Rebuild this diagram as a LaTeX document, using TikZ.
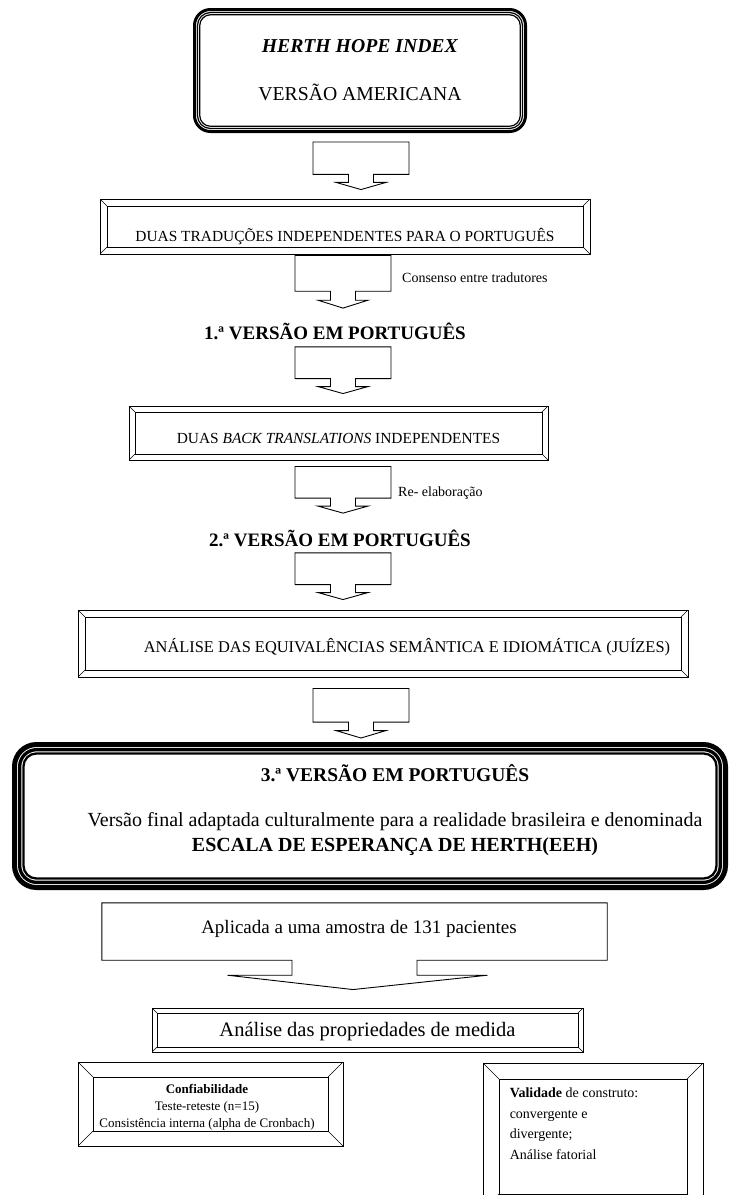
\documentclass[tikz,border=0pt]{standalone}
\usepackage{fontspec}
\setmainfont{Liberation Serif}
\usetikzlibrary{calc}

\begin{document}
\begin{tikzpicture}[x=1pt,y=-1pt]

\tikzset{bevel/.style = {draw, line width=0.9pt, inner sep=0pt, path picture={
  \draw[line width=0.9pt] ([shift={(#1pt,-#1pt)}]path picture bounding box.north west)
    rectangle ([shift={(-#1pt,#1pt)}]path picture bounding box.south east);
  \draw[line width=0.6pt] (path picture bounding box.north west) -- ++(#1pt,-#1pt)
    (path picture bounding box.north east) -- ++(-#1pt,-#1pt)
    (path picture bounding box.south west) -- ++(#1pt,#1pt)
    (path picture bounding box.south east) -- ++(-#1pt,#1pt);}}}
\tikzset{hopebox/.style = {draw, rounded corners=16pt, line width=3pt, inner sep=0pt, path picture={
  \draw[line width=1.2pt, rounded corners=13pt] ([shift={(3pt,-3pt)}]path picture bounding box.north west)
    rectangle ([shift={(-3pt,3pt)}]path picture bounding box.south east);
  \draw[line width=1.2pt, rounded corners=11pt] ([shift={(5.2pt,-5.2pt)}]path picture bounding box.north west)
    rectangle ([shift={(-5.2pt,5.2pt)}]path picture bounding box.south east);}}}
\tikzset{finalbox/.style = {draw, rounded corners=22pt, line width=5pt, inner sep=0pt, path picture={
  \draw[line width=3.3pt, rounded corners=17pt] ([shift={(5.15pt,-5.15pt)}]path picture bounding box.north west)
    rectangle ([shift={(-5.15pt,5.15pt)}]path picture bounding box.south east);
  \draw[line width=2.3pt, rounded corners=13pt] ([shift={(8.95pt,-8.95pt)}]path picture bounding box.north west)
    rectangle ([shift={(-8.95pt,8.95pt)}]path picture bounding box.south east);}}}
\tikzset{blockarr/.style = {draw, line width=0.9pt, to path={
  let \p1=(\tikztostart), \p2=(\tikztotarget), \n1={\y1-\y2} in
  (\x1-48pt,\y1) -- (\x1+48pt,\y1) -- (\x1+48pt,\y1-0.68*\n1) -- (\x1+12.5pt,\y1-0.68*\n1)
  -- (\x1+12.5pt,\y1-0.85*\n1) -- (\x1+25pt,\y1-0.85*\n1) -- (\x1,\y2)
  -- (\x1-25pt,\y1-0.85*\n1) -- (\x1-12.5pt,\y1-0.85*\n1) -- (\x1-12.5pt,\y1-0.68*\n1)
  -- (\x1-48pt,\y1-0.68*\n1) -- cycle}}}
\tikzset{vtitle/.style = {inner sep=0pt, text height=12.6pt, text depth=0pt, font=\fontsize{19}{24}\selectfont\bfseries}}
\tikzset{note/.style = {inner sep=0pt, anchor=west, text height=9.3pt, text depth=0pt, font=\fontsize{14}{16}\selectfont}}

\useasboundingbox (0,0) rectangle (729,1195);
\clip (0,0) rectangle (729,1195);

% boxes
\node[hopebox, minimum width=331pt, minimum height=122pt, align=center, font=\fontsize{19.7}{48}\selectfont] (hhi) at (360,70.5) {\textbf{\textit{HERTH HOPE INDEX}}\\VERSÃO AMERICANA};
\node[bevel=7, minimum width=490pt, minimum height=55pt, text height=29.2pt, text depth=0pt, font=\fontsize{15.4}{18}\selectfont] (trad) at (345,226.5) {DUAS TRADUÇÕES INDEPENDENTES PARA O PORTUGUÊS};
\node[note] (cons) at (402,278) {Consenso entre tradutores};
\node[vtitle] (v1) at (335,333) {1.ª VERSÃO EM PORTUGUÊS};
\node[bevel=6, minimum width=419pt, minimum height=54pt, text height=20.2pt, text depth=0pt, font=\fontsize{15.4}{18}\selectfont] (bt) at (338.5,433) {DUAS \textit{BACK TRANSLATIONS} INDEPENDENTES};
\node[note] (reel) at (398,492) {Re- elaboração};
\node[vtitle] (v2) at (340,540) {2.ª VERSÃO EM PORTUGUÊS};
\node[bevel=7, minimum width=610pt, minimum height=67pt, text height=17.9pt, text depth=0pt, font=\fontsize{16.4}{18}\selectfont] (an) at (383,643.5) {\hspace*{48pt}ANÁLISE DAS EQUIVALÊNCIAS SEMÂNTICA E IDIOMÁTICA (JUÍZES)};
\node[finalbox, minimum width=711pt, minimum height=143pt] (v3) at (370,816) {};
\node[align=center, anchor=base, inner sep=0pt, font=\fontsize{20}{25}\selectfont] (v3t) at ([xshift=25pt,yshift=-35.6pt]v3.center) {{\fontsize{19.5}{25}\selectfont\bfseries 3.ª VERSÃO EM PORTUGUÊS}\\[20pt]Versão final adaptada culturalmente para a realidade brasileira e denominada\\\textbf{ESCALA DE ESPERANÇA DE HERTH(EEH)}};
\node[minimum width=505pt, minimum height=57pt, inner sep=0pt, text height=3.6pt, text depth=0pt, font=\fontsize{19}{22}\selectfont] (ap) at (354.5,931.5) {\hspace*{9pt}Aplicada a uma amostra de 131 pacientes};
\node[bevel=5, minimum width=431pt, minimum height=44pt, text height=13.6pt, text depth=0pt, font=\fontsize{20.5}{24}\selectfont] (ad) at (367.5,1030) {Análise das propriedades de medida};
\node[bevel=15, minimum width=265pt, minimum height=84pt] (cf) at (210.5,1104) {};
\node[align=center, anchor=base, inner sep=0pt, font=\fontsize{13}{17}\selectfont] (cft) at ([xshift=-3.5pt,yshift=-23.3pt]cf.center) {\textbf{Confiabilidade}\\Teste-reteste (n=15)\\Consistência interna (alpha de Cronbach)};
\node[bevel=16, minimum width=220pt, minimum height=147pt] (vd) at (593,1136.5) {};
\node[align=left, anchor=base west, inner sep=0pt, font=\fontsize{14}{20.5}\selectfont] (vdt) at ([xshift=27pt,yshift=-96.6pt]vd.north west) {\textbf{Validade} de construto:\\convergente e\\divergente;\\Análise fatorial};

% arrows
\draw[blockarr] ([xshift=1pt,yshift=-9pt]hhi.south) to ([yshift=9pt]trad.north);
\draw[blockarr] ([xshift=-2pt,yshift=-1pt]trad.south) to ([yshift=18.4pt]v1.north);
\draw[blockarr] ([xshift=8pt,yshift=-7.4pt]v1.south) to ([yshift=12pt]bt.north);
\draw[blockarr] ([xshift=4.5pt,yshift=-6pt]bt.south) to ([yshift=20.4pt]v2.north);
\draw[blockarr] ([xshift=3pt,yshift=-6.4pt]v2.south) to ([yshift=10pt]an.north);
\draw[blockarr] ([xshift=-22pt,yshift=-11pt]an.south) to ([yshift=4pt]v3.north);
\draw[line width=0.9pt] (ap.south west) -- (ap.north west) -- (ap.north east) -- (ap.south east)
  -- ([xshift=62.5pt]ap.south) -- ([xshift=62.5pt,yshift=-15pt]ap.south)
  -- ([xshift=133pt,yshift=-15pt]ap.south) -- ($(ap.south |- ad.north)+(-1.5pt,18pt)$)
  -- ([xshift=-127pt,yshift=-15pt]ap.south) -- ([xshift=-62.5pt,yshift=-15pt]ap.south)
  -- ([xshift=-62.5pt]ap.south) -- cycle;

\end{tikzpicture}
\end{document}
